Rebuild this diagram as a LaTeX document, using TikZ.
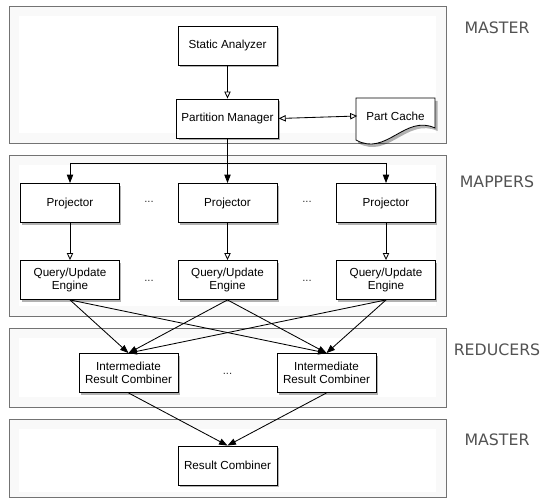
\documentclass[tikz,border=0pt]{standalone}
\usepackage{fontspec}
\setmainfont{Liberation Sans}
\newfontfamily\tierfont{DejaVu Sans}
\usetikzlibrary{arrows.meta,shadows}

\tikzset{
  box/.style={draw, fill=white, line width=0.6pt, align=center,
    minimum width=2.475cm, minimum height=0.975cm,
    font=\fontsize{8.3}{9.2}\selectfont,
    drop shadow={shadow xshift=1.3pt, shadow yshift=-1.6pt, opacity=0.3, fill=black}},
  panel/.style={draw=black!55, line width=0.7pt, fill=black!2.5},
  tier/.style={font=\tierfont\fontsize{11.2}{13}\selectfont, text=black!68},
  gap/.style={font=\fontsize{8}{9}\selectfont, text=black!80},
  openarr/.style={-{Triangle[open, length=5pt, width=4.5pt]}, line width=0.6pt},
  fullarr/.style={-{Triangle[length=6pt, width=4.5pt]}, line width=0.6pt}
}

\begin{document}
\begin{tikzpicture}[x=0.025cm, y=-0.025cm]
  \useasboundingbox (0,0) rectangle (543,498);

  \draw[panel] (9,6) rectangle (446,143);
  \fill[white] (19,16) rectangle (436,133);
  \draw[panel] (9,155) rectangle (446,316);
  \fill[white] (19,165) rectangle (436,306);
  \draw[panel] (9,328) rectangle (446,407);
  \fill[white] (19,338) rectangle (436,397);
  \draw[panel] (9,419) rectangle (446,497);
  \fill[white] (19,429) rectangle (436,492);

  \node[tier] (tmaster) at (497,28) {MASTER};
  \node[tier] (tmappers) at (497,182) {MAPPERS};
  \node[tier] (treducers) at (497,350) {REDUCERS};
  \node[tier] (tfinal) at (497,440) {MASTER};

  \node[box] (sa) at (227.5,45.5) {Static Analyzer};
  \node[box] (pm) at (227.5,118.5) {Partition Manager};

  \fill[black, opacity=0.3] (358,101) -- (437.5,101) -- (437.5,131) .. controls (407,117) and (388,160) .. (358,143) -- cycle;
  \draw[fill=white, line width=0.6pt] (356,98) -- (435,98) -- (435,128) .. controls (405,114) and (386,157) .. (356,140) -- cycle;
  \node[font=\fontsize{8.3}{9.2}\selectfont, minimum width=1.9cm, minimum height=0.75cm] (cache) at (395.5,116) {Part Cache};

  \node[box] (p1) at (70,203) {Projector};
  \node[box] (p2) at (227.5,203) {Projector};
  \node[box] (p3) at (386,203) {Projector};
  \node[gap] (d1) at (149,202) {...};
  \node[gap] (d2) at (307,202) {...};

  \node[box] (q1) at (70,280) {Query/Update\\Engine};
  \node[box] (q2) at (227.5,280) {Query/Update\\Engine};
  \node[box] (q3) at (386,280) {Query/Update\\Engine};
  \node[gap] (d3) at (149,281) {...};
  \node[gap] (d4) at (307,281) {...};

  \node[box] (i1) at (128.5,373) {Intermediate\\Result Combiner};
  \node[box] (i2) at (326.5,373) {Intermediate\\Result Combiner};
  \node[gap] (d5) at (227.5,374) {...};

  \node[box] (rc) at (227.5,465.5) {Result Combiner};

  \coordinate (bl) at (70,163);
  \coordinate (br) at (386,163);

  \draw[openarr] (sa) -- (pm);
  \draw[openarr, {Triangle[open, length=5pt, width=4.5pt]}-{Triangle[open, length=5pt, width=4.5pt]}] (pm.east) -- (cache.west);

  \draw[line width=0.6pt] (bl) -- (br);
  \draw[fullarr] (pm) -- (p2);
  \draw[fullarr] (bl) -- (p1);
  \draw[fullarr] (br) -- (p3);

  \draw[openarr] (p1) -- (q1);
  \draw[openarr] (p2) -- (q2);
  \draw[openarr] (p3) -- (q3);

  \foreach \q in {q1,q2,q3}{
    \draw[fullarr] (\q.south) -- (i1.north);
    \draw[fullarr] (\q.south) -- (i2.north);
  }

  \draw[fullarr] (i1.south) -- (rc.north);
  \draw[fullarr] (i2.south) -- (rc.north);
\end{tikzpicture}
\end{document}
